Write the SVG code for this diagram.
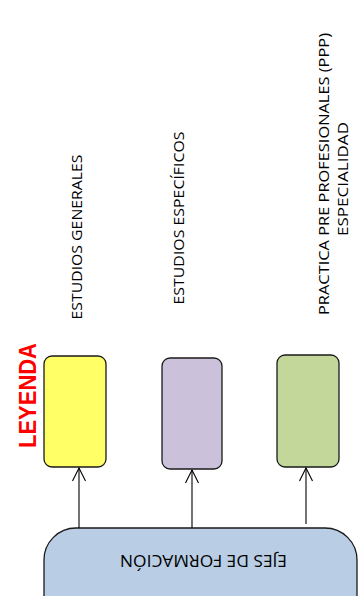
<svg xmlns="http://www.w3.org/2000/svg" width="358" height="596" viewBox="0 0 358 596">
  <style>
    .box { stroke: #1a1a1a; stroke-width: 1.3; }
    .lbl { font-family: "Open Sans", "Liberation Sans", Arial, sans-serif; font-size: 14px; fill: #000; text-anchor: middle; }
    .conn { stroke: #000; stroke-width: 1.1; fill: none; marker-end: url(#arr); }
  </style>
  <defs>
    <marker id="arr" markerUnits="userSpaceOnUse" markerWidth="20" markerHeight="20" refX="0" refY="0" orient="auto" overflow="visible">
      <path d="M-13,-6.5 L0,0 L-13,6.5" fill="none" stroke="#000" stroke-width="1.1"/>
    </marker>
  </defs>
  <rect width="358" height="596" fill="#fff"/>

  <g id="legend-title">
    <text transform="translate(36,395.5) rotate(-90)" x="0" y="0" text-anchor="middle" font-family="Liberation Sans, Arial, sans-serif" font-weight="bold" font-size="24" fill="#ff0000" textLength="105" lengthAdjust="spacingAndGlyphs">LEYENDA</text>
  </g>

  <g id="node-generales">
    <rect class="box" x="44" y="356" width="62" height="111" rx="8" fill="#ffff66"/>
    <text class="lbl" transform="translate(82,237) rotate(-90)" textLength="165" lengthAdjust="spacingAndGlyphs">ESTUDIOS GENERALES</text>
  </g>

  <g id="node-especificos">
    <rect class="box" x="162" y="358" width="60" height="111" rx="8" fill="#ccc1da"/>
    <text class="lbl" transform="translate(183.5,218) rotate(-90)" textLength="173" lengthAdjust="spacingAndGlyphs">ESTUDIOS ESPECÍFICOS</text>
  </g>

  <g id="node-ppp">
    <rect class="box" x="277" y="355" width="62" height="112" rx="8" fill="#c4d79b"/>
    <text class="lbl" transform="translate(329,174) rotate(-90)" textLength="282" lengthAdjust="spacingAndGlyphs">PRACTICA PRE PROFESIONALES (PPP)</text>
    <text class="lbl" transform="translate(348,179) rotate(-90)" textLength="114" lengthAdjust="spacingAndGlyphs">ESPECIALIDAD</text>
  </g>

  <g id="node-ejes">
    <rect class="box" x="44" y="528" width="313" height="110" rx="32" fill="#b9cde5"/>
    <text transform="translate(203.5,555) rotate(180)" text-anchor="middle" font-family="Open Sans, Liberation Sans, Arial, sans-serif" font-size="17" fill="#000" textLength="167" lengthAdjust="spacingAndGlyphs">EJES DE FORMACIÓN</text>
  </g>

  <g id="connectors">
    <line class="conn" x1="79" y1="528" x2="79" y2="468"/>
    <line class="conn" x1="192" y1="528" x2="192" y2="470"/>
    <line class="conn" x1="306" y1="524" x2="306" y2="468"/>
  </g>
</svg>
